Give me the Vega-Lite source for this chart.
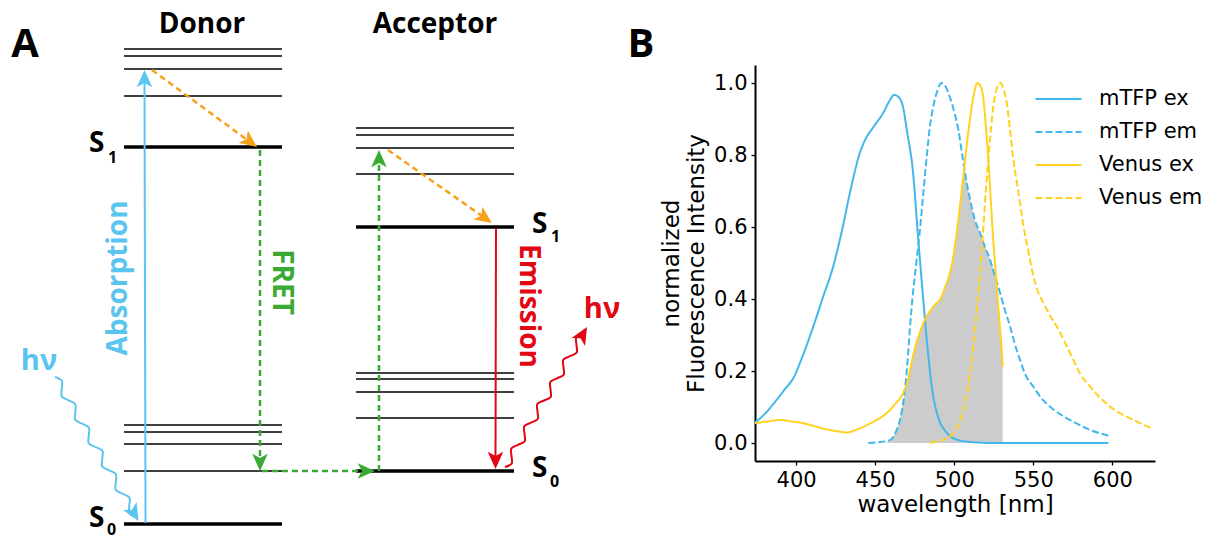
{
  "$schema": "https://vega.github.io/schema/vega-lite/v6.json",
  "padding": {"left": 0, "top": 0, "right": 0, "bottom": 14},
  "background": "white",
  "spacing": 0,
  "bounds": "flush",
  "center": true,
  "config": {"view": {"stroke": null}, "font": "DejaVu Sans"},
  "resolve": {"scale": {"x": "independent", "y": "independent"}},
  "datasets": {
    "levelsThin": [
      {"x": 124, "x2": 282, "y": 49}, {"x": 124, "x2": 282, "y": 56}, {"x": 124, "x2": 282, "y": 69}, {"x": 124, "x2": 282, "y": 96},
      {"x": 124, "x2": 282, "y": 425}, {"x": 124, "x2": 282, "y": 432}, {"x": 124, "x2": 282, "y": 444}, {"x": 124, "x2": 282, "y": 471},
      {"x": 356, "x2": 514, "y": 128}, {"x": 356, "x2": 514, "y": 135}, {"x": 356, "x2": 514, "y": 148}, {"x": 356, "x2": 514, "y": 174},
      {"x": 356, "x2": 514, "y": 373}, {"x": 356, "x2": 514, "y": 379}, {"x": 356, "x2": 514, "y": 392}, {"x": 356, "x2": 514, "y": 418}
    ],
    "levelsThick": [
      {"x": 124, "x2": 282, "y": 147}, {"x": 124, "x2": 282, "y": 524},
      {"x": 356, "x2": 514, "y": 227}, {"x": 356, "x2": 514, "y": 471}
    ],
    "absorption": [{"i": 0, "x": 145.5, "y": 523}, {"i": 1, "x": 144.5, "y": 80}],
    "emission": [{"i": 0, "x": 496, "y": 228}, {"i": 1, "x": 495.5, "y": 460}],
    "blueWave": [
      {"i": 0, "x": 55.0, "y": 377.0}, {"i": 1, "x": 61.8, "y": 380.8}, {"i": 2, "x": 61.8, "y": 388.7}, {"i": 3, "x": 61.7, "y": 396.5},
      {"i": 4, "x": 68.5, "y": 400.3}, {"i": 5, "x": 75.3, "y": 404.2}, {"i": 6, "x": 75.3, "y": 412.0}, {"i": 7, "x": 75.2, "y": 419.8},
      {"i": 8, "x": 82.0, "y": 423.7}, {"i": 9, "x": 88.8, "y": 427.5}, {"i": 10, "x": 88.8, "y": 435.3}, {"i": 11, "x": 88.7, "y": 443.2},
      {"i": 12, "x": 95.5, "y": 447.0}, {"i": 13, "x": 102.4, "y": 450.8}, {"i": 14, "x": 102.3, "y": 458.7}, {"i": 15, "x": 102.2, "y": 466.5},
      {"i": 16, "x": 109.0, "y": 470.3}, {"i": 17, "x": 115.9, "y": 474.2}, {"i": 18, "x": 115.8, "y": 482.0}, {"i": 19, "x": 115.7, "y": 489.8},
      {"i": 20, "x": 122.5, "y": 493.7}, {"i": 21, "x": 129.4, "y": 497.5}, {"i": 22, "x": 129.3, "y": 505.4}, {"i": 23, "x": 129.2, "y": 513.2},
      {"i": 24, "x": 136.0, "y": 517.0}
    ],
    "redWave": [
      {"i": 0, "x": 505.0, "y": 467.0}, {"i": 1, "x": 511.7, "y": 463.5}, {"i": 2, "x": 511.5, "y": 455.9}, {"i": 3, "x": 511.3, "y": 448.4},
      {"i": 4, "x": 518.0, "y": 444.8}, {"i": 5, "x": 524.7, "y": 441.3}, {"i": 6, "x": 524.5, "y": 433.8}, {"i": 7, "x": 524.3, "y": 426.2},
      {"i": 8, "x": 531.0, "y": 422.7}, {"i": 9, "x": 537.7, "y": 419.1}, {"i": 10, "x": 537.5, "y": 411.6}, {"i": 11, "x": 537.3, "y": 404.0},
      {"i": 12, "x": 544.0, "y": 400.5}, {"i": 13, "x": 550.7, "y": 397.0}, {"i": 14, "x": 550.5, "y": 389.4}, {"i": 15, "x": 550.3, "y": 381.9},
      {"i": 16, "x": 557.0, "y": 378.3}, {"i": 17, "x": 563.7, "y": 374.8}, {"i": 18, "x": 563.5, "y": 367.3}, {"i": 19, "x": 563.3, "y": 359.7},
      {"i": 20, "x": 570.0, "y": 356.2}, {"i": 21, "x": 576.7, "y": 352.6}, {"i": 22, "x": 576.5, "y": 345.1}, {"i": 23, "x": 576.3, "y": 337.5},
      {"i": 24, "x": 583.0, "y": 334.0}
    ],
    "orangeDash": [
      {"seg": "donor", "i": 0, "x": 152, "y": 70}, {"seg": "donor", "i": 1, "x": 250.5, "y": 142.3},
      {"seg": "acceptor", "i": 0, "x": 388, "y": 150}, {"seg": "acceptor", "i": 1, "x": 485.5, "y": 218.4}
    ],
    "greenDash": [
      {"seg": "a", "i": 0, "x": 260, "y": 150}, {"seg": "a", "i": 1, "x": 260, "y": 462},
      {"seg": "b", "i": 0, "x": 262, "y": 471}, {"seg": "b", "i": 1, "x": 366, "y": 471},
      {"seg": "c", "i": 0, "x": 379, "y": 471}, {"seg": "c", "i": 1, "x": 379, "y": 160}
    ],
    "headsBlue": [{"x": 144.5, "y": 70, "dir": 0}, {"x": 138.5, "y": 521, "dir": 150}],
    "headsOrange": [{"x": 257, "y": 147, "dir": 126.8}, {"x": 492, "y": 223, "dir": 125}],
    "headsGreen": [{"x": 260, "y": 471, "dir": 180}, {"x": 375, "y": 471, "dir": 90}, {"x": 379, "y": 150, "dir": 0}],
    "headsRed": [{"x": 495.5, "y": 469, "dir": 180}, {"x": 587, "y": 327, "dir": 30}],
    "txtTitles": [{"x": 202, "y": 33, "t": "Donor"}, {"x": 435, "y": 33, "t": "Acceptor"}],
    "txtPanels": [{"x": 25, "y": 57, "t": "A"}, {"x": 641, "y": 57, "t": "B"}],
    "txtS": [{"x": 89, "y": 152, "t": "S"}, {"x": 89, "y": 527, "t": "S"}, {"x": 532, "y": 233, "t": "S"}, {"x": 532, "y": 477, "t": "S"}],
    "txtSub": [{"x": 108, "y": 163, "t": "1"}, {"x": 107, "y": 535, "t": "0"}, {"x": 551, "y": 242, "t": "1"}, {"x": 550, "y": 487, "t": "0"}],
    "txtAbs": [{"x": 119, "y": 278, "t": "Absorption"}],
    "txtFret": [{"x": 281, "y": 282, "t": "FRET"}],
    "txtEm": [{"x": 528, "y": 306, "t": "Emission"}],
    "txtHvBlue": [{"x": 39, "y": 370, "t": "hν"}],
    "txtHvRed": [{"x": 602, "y": 318, "t": "hν"}],
    "spectra": [
      {"series": "mTFP ex", "wl": 374, "v": 0.057}, {"series": "mTFP ex", "wl": 380, "v": 0.08}, {"series": "mTFP ex", "wl": 387.7, "v": 0.12},
      {"series": "mTFP ex", "wl": 393, "v": 0.15}, {"series": "mTFP ex", "wl": 398.2, "v": 0.18}, {"series": "mTFP ex", "wl": 404, "v": 0.24},
      {"series": "mTFP ex", "wl": 410.9, "v": 0.324}, {"series": "mTFP ex", "wl": 417, "v": 0.405}, {"series": "mTFP ex", "wl": 423.5, "v": 0.491},
      {"series": "mTFP ex", "wl": 429, "v": 0.59}, {"series": "mTFP ex", "wl": 434.1, "v": 0.696}, {"series": "mTFP ex", "wl": 440.4, "v": 0.807},
      {"series": "mTFP ex", "wl": 444, "v": 0.845}, {"series": "mTFP ex", "wl": 448.8, "v": 0.877}, {"series": "mTFP ex", "wl": 455.2, "v": 0.918},
      {"series": "mTFP ex", "wl": 459, "v": 0.95}, {"series": "mTFP ex", "wl": 462, "v": 0.967}, {"series": "mTFP ex", "wl": 465, "v": 0.96},
      {"series": "mTFP ex", "wl": 467.8, "v": 0.93}, {"series": "mTFP ex", "wl": 470, "v": 0.87}, {"series": "mTFP ex", "wl": 474, "v": 0.75},
      {"series": "mTFP ex", "wl": 477, "v": 0.58}, {"series": "mTFP ex", "wl": 480, "v": 0.42}, {"series": "mTFP ex", "wl": 483, "v": 0.27},
      {"series": "mTFP ex", "wl": 486, "v": 0.15}, {"series": "mTFP ex", "wl": 490, "v": 0.07}, {"series": "mTFP ex", "wl": 495, "v": 0.03},
      {"series": "mTFP ex", "wl": 500, "v": 0.012}, {"series": "mTFP ex", "wl": 510, "v": 0.003}, {"series": "mTFP ex", "wl": 525, "v": 0.0},
      {"series": "mTFP ex", "wl": 597.5, "v": 0.0},
      {"series": "mTFP em", "wl": 445.7, "v": 0.0}, {"series": "mTFP em", "wl": 452, "v": 0.002}, {"series": "mTFP em", "wl": 459.4, "v": 0.008},
      {"series": "mTFP em", "wl": 463, "v": 0.03}, {"series": "mTFP em", "wl": 465.7, "v": 0.064}, {"series": "mTFP em", "wl": 468, "v": 0.12},
      {"series": "mTFP em", "wl": 470, "v": 0.2}, {"series": "mTFP em", "wl": 472, "v": 0.32}, {"series": "mTFP em", "wl": 474, "v": 0.42},
      {"series": "mTFP em", "wl": 476.3, "v": 0.51}, {"series": "mTFP em", "wl": 478.5, "v": 0.6}, {"series": "mTFP em", "wl": 480.5, "v": 0.696},
      {"series": "mTFP em", "wl": 482.5, "v": 0.79}, {"series": "mTFP em", "wl": 484.7, "v": 0.881}, {"series": "mTFP em", "wl": 487, "v": 0.94},
      {"series": "mTFP em", "wl": 489, "v": 0.974}, {"series": "mTFP em", "wl": 492, "v": 1.0}, {"series": "mTFP em", "wl": 494.5, "v": 0.99},
      {"series": "mTFP em", "wl": 497.3, "v": 0.96}, {"series": "mTFP em", "wl": 500, "v": 0.92}, {"series": "mTFP em", "wl": 502.6, "v": 0.87},
      {"series": "mTFP em", "wl": 505.8, "v": 0.779}, {"series": "mTFP em", "wl": 508, "v": 0.72}, {"series": "mTFP em", "wl": 510, "v": 0.677},
      {"series": "mTFP em", "wl": 513, "v": 0.62}, {"series": "mTFP em", "wl": 516.3, "v": 0.584}, {"series": "mTFP em", "wl": 519, "v": 0.55},
      {"series": "mTFP em", "wl": 522.6, "v": 0.51}, {"series": "mTFP em", "wl": 526, "v": 0.46}, {"series": "mTFP em", "wl": 529, "v": 0.417},
      {"series": "mTFP em", "wl": 532, "v": 0.37}, {"series": "mTFP em", "wl": 535.3, "v": 0.324}, {"series": "mTFP em", "wl": 538, "v": 0.28},
      {"series": "mTFP em", "wl": 541.6, "v": 0.231}, {"series": "mTFP em", "wl": 545, "v": 0.19}, {"series": "mTFP em", "wl": 550, "v": 0.157},
      {"series": "mTFP em", "wl": 555, "v": 0.125}, {"series": "mTFP em", "wl": 560.6, "v": 0.101}, {"series": "mTFP em", "wl": 568, "v": 0.077},
      {"series": "mTFP em", "wl": 575.3, "v": 0.059}, {"series": "mTFP em", "wl": 585, "v": 0.038}, {"series": "mTFP em", "wl": 598.6, "v": 0.019},
      {"series": "Venus ex", "wl": 374, "v": 0.055}, {"series": "Venus ex", "wl": 382, "v": 0.06}, {"series": "Venus ex", "wl": 389.8, "v": 0.064},
      {"series": "Venus ex", "wl": 397, "v": 0.06}, {"series": "Venus ex", "wl": 404.5, "v": 0.055}, {"series": "Venus ex", "wl": 413, "v": 0.045},
      {"series": "Venus ex", "wl": 421.4, "v": 0.036}, {"series": "Venus ex", "wl": 427, "v": 0.032}, {"series": "Venus ex", "wl": 432, "v": 0.029},
      {"series": "Venus ex", "wl": 437, "v": 0.035}, {"series": "Venus ex", "wl": 442.5, "v": 0.045}, {"series": "Venus ex", "wl": 450, "v": 0.062},
      {"series": "Venus ex", "wl": 457.3, "v": 0.083}, {"series": "Venus ex", "wl": 462, "v": 0.105}, {"series": "Venus ex", "wl": 467.8, "v": 0.14},
      {"series": "Venus ex", "wl": 471, "v": 0.18}, {"series": "Venus ex", "wl": 474.1, "v": 0.245}, {"series": "Venus ex", "wl": 477, "v": 0.29},
      {"series": "Venus ex", "wl": 480.5, "v": 0.333}, {"series": "Venus ex", "wl": 484.7, "v": 0.366}, {"series": "Venus ex", "wl": 488, "v": 0.385},
      {"series": "Venus ex", "wl": 491, "v": 0.398}, {"series": "Venus ex", "wl": 494, "v": 0.43}, {"series": "Venus ex", "wl": 497.3, "v": 0.473},
      {"series": "Venus ex", "wl": 499.5, "v": 0.52}, {"series": "Venus ex", "wl": 501.6, "v": 0.584}, {"series": "Venus ex", "wl": 503.7, "v": 0.66},
      {"series": "Venus ex", "wl": 505.8, "v": 0.742}, {"series": "Venus ex", "wl": 508, "v": 0.83}, {"series": "Venus ex", "wl": 510, "v": 0.9},
      {"series": "Venus ex", "wl": 512.5, "v": 0.97}, {"series": "Venus ex", "wl": 514.7, "v": 1.0}, {"series": "Venus ex", "wl": 516.7, "v": 0.99},
      {"series": "Venus ex", "wl": 518.5, "v": 0.955}, {"series": "Venus ex", "wl": 520, "v": 0.88}, {"series": "Venus ex", "wl": 521.6, "v": 0.788},
      {"series": "Venus ex", "wl": 523.2, "v": 0.67}, {"series": "Venus ex", "wl": 524.8, "v": 0.556}, {"series": "Venus ex", "wl": 526.5, "v": 0.46},
      {"series": "Venus ex", "wl": 528, "v": 0.37}, {"series": "Venus ex", "wl": 529.5, "v": 0.29}, {"series": "Venus ex", "wl": 530.7, "v": 0.213},
      {"series": "Venus em", "wl": 484.7, "v": 0.001}, {"series": "Venus em", "wl": 490, "v": 0.005}, {"series": "Venus em", "wl": 497.3, "v": 0.018},
      {"series": "Venus em", "wl": 502, "v": 0.045}, {"series": "Venus em", "wl": 505.8, "v": 0.092}, {"series": "Venus em", "wl": 508.5, "v": 0.15},
      {"series": "Venus em", "wl": 511.1, "v": 0.231}, {"series": "Venus em", "wl": 513.3, "v": 0.32}, {"series": "Venus em", "wl": 515.3, "v": 0.417},
      {"series": "Venus em", "wl": 517, "v": 0.51}, {"series": "Venus em", "wl": 518.5, "v": 0.603}, {"series": "Venus em", "wl": 520, "v": 0.7},
      {"series": "Venus em", "wl": 521.6, "v": 0.788}, {"series": "Venus em", "wl": 523.2, "v": 0.87}, {"series": "Venus em", "wl": 524.8, "v": 0.937},
      {"series": "Venus em", "wl": 527, "v": 0.985}, {"series": "Venus em", "wl": 529.4, "v": 1.0}, {"series": "Venus em", "wl": 531.3, "v": 0.98},
      {"series": "Venus em", "wl": 533.2, "v": 0.946}, {"series": "Venus em", "wl": 535.3, "v": 0.87}, {"series": "Venus em", "wl": 537.4, "v": 0.788},
      {"series": "Venus em", "wl": 540.5, "v": 0.7}, {"series": "Venus em", "wl": 543.8, "v": 0.603}, {"series": "Venus em", "wl": 547, "v": 0.53},
      {"series": "Venus em", "wl": 550.1, "v": 0.463}, {"series": "Venus em", "wl": 553, "v": 0.42}, {"series": "Venus em", "wl": 556.4, "v": 0.389},
      {"series": "Venus em", "wl": 560.5, "v": 0.355}, {"series": "Venus em", "wl": 564.8, "v": 0.324}, {"series": "Venus em", "wl": 570, "v": 0.28},
      {"series": "Venus em", "wl": 575.3, "v": 0.231}, {"series": "Venus em", "wl": 580, "v": 0.19}, {"series": "Venus em", "wl": 585.9, "v": 0.157},
      {"series": "Venus em", "wl": 592, "v": 0.127}, {"series": "Venus em", "wl": 598.6, "v": 0.101}, {"series": "Venus em", "wl": 606, "v": 0.08},
      {"series": "Venus em", "wl": 613.4, "v": 0.064}, {"series": "Venus em", "wl": 620, "v": 0.05}, {"series": "Venus em", "wl": 626, "v": 0.04}
    ],
    "overlap": [
      {"wl": 457, "v": 0.0}, {"wl": 459.4, "v": 0.008}, {"wl": 463, "v": 0.03}, {"wl": 465.7, "v": 0.064}, {"wl": 468, "v": 0.12},
      {"wl": 470.5, "v": 0.17}, {"wl": 474.1, "v": 0.245}, {"wl": 477, "v": 0.29}, {"wl": 480.5, "v": 0.333}, {"wl": 484.7, "v": 0.366},
      {"wl": 488, "v": 0.385}, {"wl": 491, "v": 0.398}, {"wl": 494, "v": 0.43}, {"wl": 497.3, "v": 0.473}, {"wl": 499.5, "v": 0.52},
      {"wl": 501.6, "v": 0.584}, {"wl": 503.7, "v": 0.66}, {"wl": 505.8, "v": 0.742}, {"wl": 506.5, "v": 0.765}, {"wl": 508, "v": 0.72},
      {"wl": 510, "v": 0.677}, {"wl": 513, "v": 0.62}, {"wl": 516.3, "v": 0.584}, {"wl": 519, "v": 0.55}, {"wl": 522.6, "v": 0.51},
      {"wl": 524.3, "v": 0.49}, {"wl": 526, "v": 0.46}, {"wl": 528, "v": 0.37}, {"wl": 529.5, "v": 0.29}, {"wl": 530.7, "v": 0.213}
    ]
  },
  "hconcat": [
    {
      "width": 755,
      "height": 526,
      "encoding": {
        "x": {"field": "x", "type": "quantitative", "scale": {"domain": [0, 755], "nice": false, "zero": false}, "axis": null},
        "y": {"field": "y", "type": "quantitative", "scale": {"domain": [0, 526], "nice": false, "zero": false, "reverse": true}, "axis": null}
      },
      "layer": [
        {"data": {"name": "levelsThin"}, "mark": {"type": "rule", "color": "black", "strokeWidth": 1.7}, "encoding": {"x2": {"field": "x2"}}},
        {"data": {"name": "levelsThick"}, "mark": {"type": "rule", "color": "black", "strokeWidth": 3.6}, "encoding": {"x2": {"field": "x2"}}},
        {"data": {"name": "absorption"}, "mark": {"type": "line", "color": "#5bc4ef", "strokeWidth": 2}, "encoding": {"order": {"field": "i", "type": "quantitative"}}},
        {"data": {"name": "blueWave"}, "mark": {"type": "line", "color": "#5bc4ef", "strokeWidth": 2, "interpolate": "cardinal"}, "encoding": {"order": {"field": "i", "type": "quantitative"}}},
        {"data": {"name": "redWave"}, "mark": {"type": "line", "color": "#e30613", "strokeWidth": 2, "interpolate": "cardinal"}, "encoding": {"order": {"field": "i", "type": "quantitative"}}},
        {"data": {"name": "emission"}, "mark": {"type": "line", "color": "#e30613", "strokeWidth": 2}, "encoding": {"order": {"field": "i", "type": "quantitative"}}},
        {"data": {"name": "orangeDash"}, "mark": {"type": "line", "color": "#f7a21b", "strokeWidth": 2.5, "strokeDash": [6, 4]}, "encoding": {"detail": {"field": "seg"}, "order": {"field": "i", "type": "quantitative"}}},
        {"data": {"name": "greenDash"}, "mark": {"type": "line", "color": "#3aaa35", "strokeWidth": 2.5, "strokeDash": [6, 4]}, "encoding": {"detail": {"field": "seg"}, "order": {"field": "i", "type": "quantitative"}}},
        {"data": {"name": "headsBlue"}, "mark": {"type": "point", "shape": "M0,0L0.9,2L0,1.5L-0.9,2Z", "filled": true, "size": 300, "color": "#5bc4ef", "opacity": 1, "strokeWidth": 0}, "encoding": {"angle": {"field": "dir", "type": "quantitative", "scale": null}}},
        {"data": {"name": "headsOrange"}, "mark": {"type": "point", "shape": "M0,0L0.9,2L0,1.5L-0.9,2Z", "filled": true, "size": 300, "color": "#f7a21b", "opacity": 1, "strokeWidth": 0}, "encoding": {"angle": {"field": "dir", "type": "quantitative", "scale": null}}},
        {"data": {"name": "headsGreen"}, "mark": {"type": "point", "shape": "M0,0L0.9,2L0,1.5L-0.9,2Z", "filled": true, "size": 300, "color": "#3aaa35", "opacity": 1, "strokeWidth": 0}, "encoding": {"angle": {"field": "dir", "type": "quantitative", "scale": null}}},
        {"data": {"name": "headsRed"}, "mark": {"type": "point", "shape": "M0,0L0.9,2L0,1.5L-0.9,2Z", "filled": true, "size": 300, "color": "#e30613", "opacity": 1, "strokeWidth": 0}, "encoding": {"angle": {"field": "dir", "type": "quantitative", "scale": null}}},
        {"data": {"name": "txtTitles"}, "mark": {"type": "text", "font": "Open Sans", "fontWeight": "bold", "fontSize": 28, "color": "black", "align": "center", "baseline": "alphabetic"}, "encoding": {"text": {"field": "t"}}},
        {"data": {"name": "txtPanels"}, "mark": {"type": "text", "font": "Open Sans", "fontWeight": "bold", "fontSize": 40, "color": "black", "align": "center", "baseline": "alphabetic"}, "encoding": {"text": {"field": "t"}}},
        {"data": {"name": "txtS"}, "mark": {"type": "text", "font": "Open Sans", "fontWeight": "bold", "fontSize": 28, "color": "black", "align": "left", "baseline": "alphabetic"}, "encoding": {"text": {"field": "t"}}},
        {"data": {"name": "txtSub"}, "mark": {"type": "text", "font": "Open Sans", "fontWeight": "bold", "fontSize": 16, "color": "black", "align": "left", "baseline": "alphabetic"}, "encoding": {"text": {"field": "t"}}},
        {"data": {"name": "txtAbs"}, "mark": {"type": "text", "font": "Open Sans", "fontWeight": "bold", "fontSize": 28, "color": "#5bc4ef", "align": "center", "baseline": "middle", "angle": 270}, "encoding": {"text": {"field": "t"}}},
        {"data": {"name": "txtFret"}, "mark": {"type": "text", "font": "Open Sans", "fontWeight": "bold", "fontSize": 28, "color": "#3aaa35", "align": "center", "baseline": "middle", "angle": 90}, "encoding": {"text": {"field": "t"}}},
        {"data": {"name": "txtEm"}, "mark": {"type": "text", "font": "Open Sans", "fontWeight": "bold", "fontSize": 28, "color": "#e30613", "align": "center", "baseline": "middle", "angle": 90}, "encoding": {"text": {"field": "t"}}},
        {"data": {"name": "txtHvBlue"}, "mark": {"type": "text", "font": "Open Sans", "fontWeight": "bold", "fontSize": 29, "color": "#5bc4ef", "align": "center", "baseline": "alphabetic"}, "encoding": {"text": {"field": "t"}}},
        {"data": {"name": "txtHvRed"}, "mark": {"type": "text", "font": "Open Sans", "fontWeight": "bold", "fontSize": 29, "color": "#e30613", "align": "center", "baseline": "alphabetic"}, "encoding": {"text": {"field": "t"}}}
      ]
    },
    {
      "width": 400,
      "height": 396,
      "encoding": {
        "x": {"field": "wl", "type": "quantitative", "scale": {"domain": [374, 627], "nice": false, "zero": false},
          "axis": {"title": "wavelength [nm]", "values": [400, 450, 500, 550, 600], "grid": false, "domainColor": "black", "domainWidth": 2,
            "tickColor": "black", "tickSize": 4, "tickWidth": 1.3, "labelFont": "DejaVu Sans", "labelFontSize": 21, "labelColor": "black", "labelPadding": 4,
            "titleFont": "DejaVu Sans", "titleFontSize": 23, "titleFontWeight": "normal", "titleColor": "black", "titlePadding": 3}},
        "y": {"field": "v", "type": "quantitative", "scale": {"domain": [-0.05, 1.05], "nice": false, "zero": false},
          "axis": {"title": ["normalized", "Fluorescence Intensity"], "values": [0, 0.2, 0.4, 0.6, 0.8, 1.0], "format": ".1f", "grid": false,
            "domainColor": "black", "domainWidth": 2, "tickColor": "black", "tickSize": 4, "tickWidth": 1.3, "labelFont": "DejaVu Sans", "labelFontSize": 21,
            "labelColor": "black", "labelPadding": 4, "titleFont": "DejaVu Sans", "titleFontSize": 23, "titleFontWeight": "normal", "titleColor": "black",
            "titleLineHeight": 25, "titlePadding": 5}}
      },
      "layer": [
        {"data": {"name": "overlap"}, "mark": {"type": "area", "color": "#cccccc", "opacity": 1, "interpolate": "monotone"}, "encoding": {"y2": {"datum": 0}}},
        {"data": {"name": "spectra"}, "mark": {"type": "line", "strokeWidth": 2, "interpolate": "monotone"},
          "encoding": {
            "color": {"field": "series", "type": "nominal", "scale": {"domain": ["mTFP ex", "mTFP em", "Venus ex", "Venus em"], "range": ["#41b8e9", "#41b8e9", "#ffd21f", "#ffd21f"]},
              "legend": {"title": null, "orient": "none", "legendX": 1046, "legendY": 86.5, "symbolType": "M-2,0L2,0", "symbolSize": 529, "symbolStrokeWidth": 2,
                "labelFont": "DejaVu Sans", "labelFontSize": 21, "labelColor": "black", "labelOffset": 28, "rowPadding": 10, "padding": 0}},
            "strokeDash": {"field": "series", "type": "nominal", "scale": {"domain": ["mTFP ex", "mTFP em", "Venus ex", "Venus em"], "range": [[1, 0], [7, 3], [1, 0], [7, 3]]},
              "legend": {"title": null, "orient": "none", "legendX": 1046, "legendY": 86.5, "symbolType": "M-2,0L2,0", "symbolSize": 529, "symbolStrokeWidth": 2,
                "labelFont": "DejaVu Sans", "labelFontSize": 21, "labelColor": "black", "labelOffset": 28, "rowPadding": 10, "padding": 0}}
          }}
      ]
    }
  ]
}
